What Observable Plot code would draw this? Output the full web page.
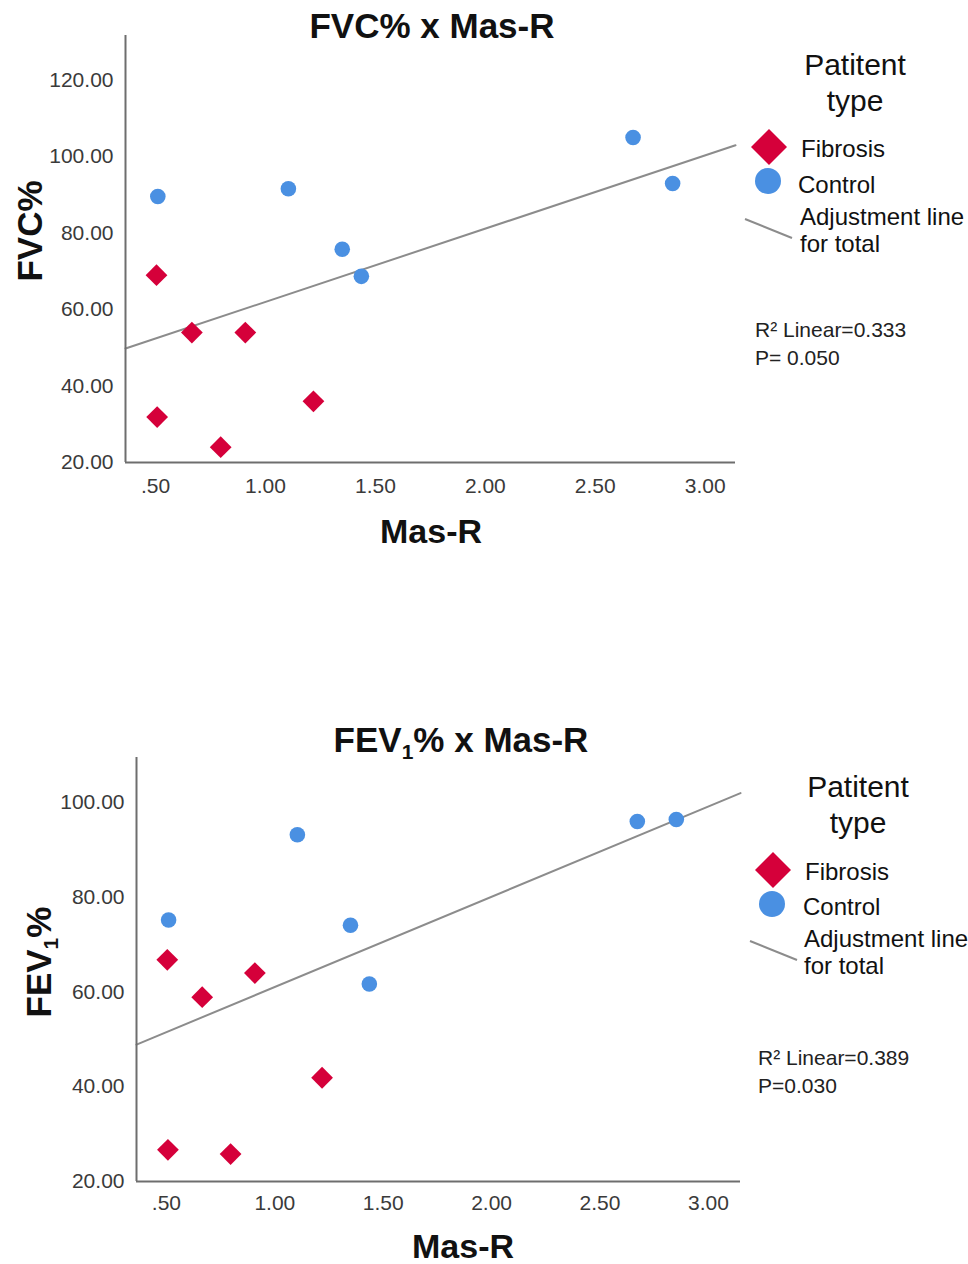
<!DOCTYPE html>
<html><head><meta charset="utf-8">
<script src="https://cdn.jsdelivr.net/npm/d3@7"></script>
<script src="https://cdn.jsdelivr.net/npm/@observablehq/plot@0.6"></script>
<style>
html,body{margin:0;padding:0;background:#fff;}
#root{position:relative;width:968px;height:1264px;overflow:hidden;font-family:"Liberation Sans",Arial,sans-serif;}
.panel{position:absolute;left:0;width:968px;}
.panel svg{position:absolute;left:0;top:0;}
</style></head><body><div id="root"></div>
<script>
// ---- data ----
const groups = ["Fibrosis", "Control"];
const groupColors = ["#d5003a", "#4a90e2"];
const masRFibrosis = [0.504, 0.665, 0.908, 0.507, 0.796, 1.218];
const masRControl  = [0.510, 1.104, 1.349, 1.436, 2.672, 2.852];
const fvcFibrosis  = [69.0, 54.0, 54.0, 31.9, 24.0, 36.0];
const fvcControl   = [89.6, 91.6, 75.8, 68.7, 105.0, 93.0];
const fev1Fibrosis = [66.8, 58.9, 64.0, 26.7, 25.8, 41.9];
const fev1Control  = [75.2, 93.2, 74.1, 61.7, 96.0, 96.4];
const xTicks    = [0.5, 1, 1.5, 2, 2.5, 3];
const fvcTicks  = [20, 40, 60, 80, 100, 120];
const fev1Ticks = [20, 40, 60, 80, 100];
const legendTitle = ["Patitent", "type"];
const fitLabel = ["Adjustment line", "for total"];
const stats1 = ["R² Linear=0.333", "P= 0.050"];
const stats2 = ["R² Linear=0.389", "P=0.030"];

const FONT = '"Liberation Sans", Arial, sans-serif';
const fmtX = d => d3.format(".2f")(d).replace(/^0\./, ".");
const fmtY = d3.format(".2f");

function txt(g, s, x, y, size, opts = {}) {
  const t = g.append("text").attr("x", x).attr("y", y)
    .attr("font-size", size).attr("fill", opts.fill || "#111")
    .attr("font-weight", opts.bold ? "bold" : "normal")
    .attr("text-anchor", opts.anchor || "start");
  if (Array.isArray(s)) {
    t.append("tspan").text(s[0]);
    t.append("tspan").attr("font-size", size * 0.6).attr("dy", size * 0.2).text(s[1]);
    t.append("tspan").attr("dy", -size * 0.2).text(s[2]);
  } else t.text(s);
  return t;
}

function panel(cfg) {
  const div = d3.select("#root").append("div").attr("class", "panel")
    .style("top", cfg.top + "px").style("height", cfg.height + "px");
  const data = [
    ...masRFibrosis.map((x, i) => ({x, y: cfg.fib[i], g: groups[0]})),
    ...masRControl.map((x, i) => ({x, y: cfg.ctl[i], g: groups[1]}))
  ];
  const mx = d3.mean(data, d => d.x), my = d3.mean(data, d => d.y);
  const slope = d3.sum(data, d => (d.x - mx) * (d.y - my)) / d3.sum(data, d => (d.x - mx) ** 2);
  const icpt = my - slope * mx;
  const fit = cfg.xDomain.map(x => ({x, y: icpt + slope * x}));

  const chart = Plot.plot({
    width: 968, height: cfg.height,
    marginLeft: cfg.ml, marginRight: cfg.mr, marginTop: cfg.mt, marginBottom: cfg.mb,
    x: {domain: cfg.xDomain},
    y: {domain: cfg.yDomain},
    style: {fontFamily: FONT, background: "transparent", overflow: "visible"},
    marks: [
      Plot.axisX({ticks: xTicks, tickSize: 0, tickPadding: cfg.xPad, fontSize: 21, fill: "#3a3a3a", tickFormat: fmtX, label: null}),
      Plot.axisY({ticks: cfg.yTicks, tickSize: 0, tickPadding: 12, fontSize: 21, fill: "#3a3a3a", tickFormat: fmtY, label: null}),
      Plot.line(fit, {x: "x", y: "y", stroke: "#8c8c8c", strokeWidth: 2}),
      Plot.ruleX([cfg.xDomain[0]], {stroke: "#6e6e6e", strokeWidth: 2}),
      Plot.ruleY([cfg.yDomain[0]], {stroke: "#6e6e6e", strokeWidth: 2}),
      Plot.dot(data.filter(d => d.g === groups[1]), {x: "x", y: "y", symbol: "circle", r: 7.8, fill: groupColors[1]}),
      Plot.dot(data.filter(d => d.g === groups[0]), {x: "x", y: "y", symbol: "diamond2", r: 9.8, fill: groupColors[0]})
    ]
  });
  div.node().appendChild(chart);

  const ov = div.append("svg").attr("width", 968).attr("height", cfg.height)
    .style("font-family", FONT);
  const L = cfg.L;
  txt(ov, cfg.title, L.title[0], L.title[1], 35, {bold: true, anchor: "middle"});
  const yl = ov.append("g").attr("transform", `translate(${L.ylab[0]},${L.ylab[1]}) rotate(-90)`);
  txt(yl, cfg.ylab, 0, 0, 35, {bold: true, anchor: "middle"});
  txt(ov, "Mas-R", L.xlab[0], L.xlab[1], 34, {bold: true, anchor: "middle"});
  txt(ov, legendTitle[0], L.lt[0], L.lt[1], 30, {anchor: "middle"});
  txt(ov, legendTitle[1], L.lt[0], L.lt[1] + 36, 30, {anchor: "middle"});
  const [dx, dy] = L.dia;
  ov.append("path").attr("d", `M${dx},${dy - 18}L${dx + 18},${dy}L${dx},${dy + 18}L${dx - 18},${dy}Z`).attr("fill", groupColors[0]);
  ov.append("circle").attr("cx", L.cir[0]).attr("cy", L.cir[1]).attr("r", 13).attr("fill", groupColors[1]);
  txt(ov, groups[0], L.fib[0], L.fib[1], 24);
  txt(ov, groups[1], L.ctl[0], L.ctl[1], 24);
  txt(ov, fitLabel[0], L.adj[0], L.adj[1], 24);
  txt(ov, fitLabel[1], L.adj[0], L.adj[1] + 27, 24);
  ov.append("line").attr("x1", L.line[0]).attr("y1", L.line[1]).attr("x2", L.line[2]).attr("y2", L.line[3])
    .attr("stroke", "#8c8c8c").attr("stroke-width", 2);
  txt(ov, cfg.stats[0], L.st[0], L.st[1], 21, {fill: "#222"});
  txt(ov, cfg.stats[1], L.st[0], L.st[1] + 28, 21, {fill: "#222"});
}

panel({
  top: 0, height: 560, ml: 125, mr: 233, mt: 35, mb: 98, xPad: 16,
  xDomain: [0.363, 3.138], yDomain: [20, 131.7], yTicks: fvcTicks,
  fib: fvcFibrosis, ctl: fvcControl,
  title: "FVC% x Mas-R", ylab: "FVC%", stats: stats1,
  L: {title: [432, 38], ylab: [42, 231], xlab: [431, 543], lt: [855, 75],
      dia: [769, 147], cir: [768, 181], fib: [801, 157], ctl: [798, 193],
      adj: [800, 225], line: [745, 219, 792, 238], st: [755, 337]}
});
panel({
  top: 720, height: 544, ml: 136, mr: 228, mt: 37, mb: 83, xPad: 14,
  xDomain: [0.362, 3.148], yDomain: [20, 109.5], yTicks: fev1Ticks,
  fib: fev1Fibrosis, ctl: fev1Control,
  title: ["FEV", "1", "% x Mas-R"], ylab: ["FEV", "1", "%"], stats: stats2,
  L: {title: [461, 32], ylab: [51, 242], xlab: [463, 538], lt: [858, 77],
      dia: [773, 150], cir: [772, 184], fib: [805, 160], ctl: [803, 195],
      adj: [804, 227], line: [750, 221, 797, 240], st: [758, 345]}
});
</script></body></html>
